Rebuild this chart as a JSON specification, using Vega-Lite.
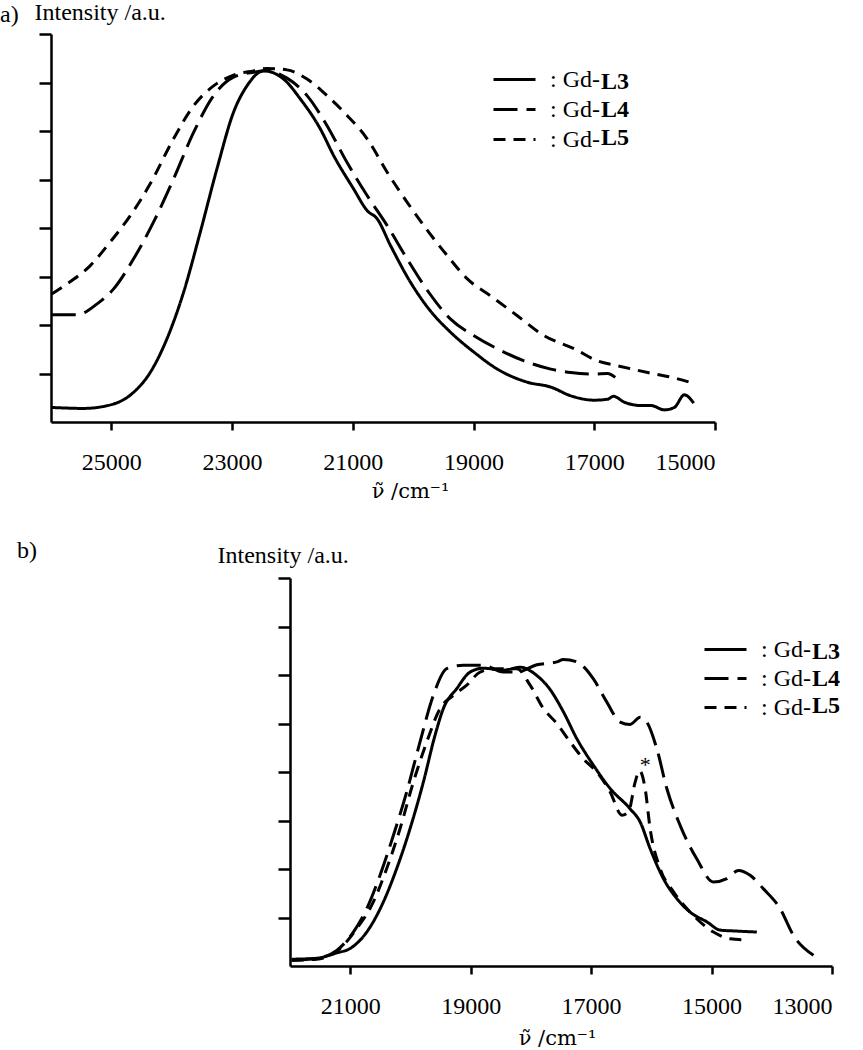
{
  "$schema": "https://vega.github.io/schema/vega-lite/v6.json",
  "padding": {"left": 0, "top": 0, "right": 0, "bottom": 0},
  "background": "white",
  "config": {
    "font": "Liberation Serif",
    "view": {"stroke": null},
    "axis": {"grid": false, "domainColor": "black", "domainWidth": 2.5, "tickColor": "black", "tickWidth": 2.5,
      "labelFont": "Liberation Serif", "labelFontSize": 24, "labelColor": "black",
      "titleFont": "Liberation Serif", "titleFontSize": 24, "titleFontWeight": "normal", "titleColor": "black"},
    "legend": {"labelFont": "Liberation Serif", "labelFontSize": 24, "labelColor": "black"},
    "title": {"font": "Liberation Serif", "fontSize": 24, "fontWeight": "normal", "color": "black", "anchor": "start", "frame": "group"}
  },
  "datasets": {
    "a": [
      {"s":"L3","x":25988,"y":0.30},{"s":"L3","x":25464,"y":0.28},{"s":"L3","x":24966,"y":0.37},{"s":"L3","x":24634,"y":0.61},{"s":"L3","x":24357,"y":1.02},{"s":"L3","x":24081,"y":1.71},{"s":"L3","x":23805,"y":2.67},{"s":"L3","x":23528,"y":3.91},{"s":"L3","x":23251,"y":5.22},{"s":"L3","x":22975,"y":6.39},{"s":"L3","x":22754,"y":6.93},{"s":"L3","x":22477,"y":7.24},{"s":"L3","x":22146,"y":7.07},{"s":"L3","x":21869,"y":6.66},{"s":"L3","x":21537,"y":6.04},{"s":"L3","x":21316,"y":5.49},{"s":"L3","x":20984,"y":4.80},{"s":"L3","x":20763,"y":4.36},{"s":"L3","x":20597,"y":4.19},{"s":"L3","x":20376,"y":3.64},{"s":"L3","x":20044,"y":2.88},{"s":"L3","x":19740,"y":2.33},{"s":"L3","x":19380,"y":1.85},{"s":"L3","x":18993,"y":1.44},{"s":"L3","x":18605,"y":1.09},{"s":"L3","x":18107,"y":0.82},{"s":"L3","x":17720,"y":0.72},{"s":"L3","x":17389,"y":0.54},{"s":"L3","x":17002,"y":0.45},{"s":"L3","x":16779,"y":0.47},{"s":"L3","x":16680,"y":0.53},{"s":"L3","x":16504,"y":0.41},{"s":"L3","x":16227,"y":0.34},{"s":"L3","x":16061,"y":0.34},{"s":"L3","x":15840,"y":0.25},{"s":"L3","x":15674,"y":0.30},{"s":"L3","x":15508,"y":0.56},{"s":"L3","x":15353,"y":0.39},
      {"s":"L4","x":25988,"y":2.21},{"s":"L4","x":25574,"y":2.21},{"s":"L4","x":25242,"y":2.43},{"s":"L4","x":24966,"y":2.74},{"s":"L4","x":24634,"y":3.36},{"s":"L4","x":24302,"y":4.12},{"s":"L4","x":23970,"y":5.01},{"s":"L4","x":23638,"y":5.97},{"s":"L4","x":23307,"y":6.73},{"s":"L4","x":22975,"y":7.11},{"s":"L4","x":22643,"y":7.21},{"s":"L4","x":22422,"y":7.24},{"s":"L4","x":22090,"y":7.09},{"s":"L4","x":21758,"y":6.73},{"s":"L4","x":21427,"y":6.11},{"s":"L4","x":21095,"y":5.35},{"s":"L4","x":20763,"y":4.67},{"s":"L4","x":20431,"y":4.05},{"s":"L4","x":20099,"y":3.36},{"s":"L4","x":19740,"y":2.67},{"s":"L4","x":19380,"y":2.12},{"s":"L4","x":18993,"y":1.78},{"s":"L4","x":18605,"y":1.51},{"s":"L4","x":18163,"y":1.26},{"s":"L4","x":17720,"y":1.09},{"s":"L4","x":17389,"y":1.02},{"s":"L4","x":17002,"y":0.99},{"s":"L4","x":16779,"y":1.00},{"s":"L4","x":16653,"y":0.92},
      {"s":"L5","x":25988,"y":2.64},{"s":"L5","x":25685,"y":2.89},{"s":"L5","x":25353,"y":3.22},{"s":"L5","x":25021,"y":3.71},{"s":"L5","x":24689,"y":4.25},{"s":"L5","x":24357,"y":4.91},{"s":"L5","x":23970,"y":5.84},{"s":"L5","x":23638,"y":6.52},{"s":"L5","x":23307,"y":6.93},{"s":"L5","x":22975,"y":7.15},{"s":"L5","x":22643,"y":7.24},{"s":"L5","x":22422,"y":7.29},{"s":"L5","x":22090,"y":7.26},{"s":"L5","x":21758,"y":7.07},{"s":"L5","x":21427,"y":6.73},{"s":"L5","x":21095,"y":6.32},{"s":"L5","x":20763,"y":5.84},{"s":"L5","x":20431,"y":5.15},{"s":"L5","x":20099,"y":4.53},{"s":"L5","x":19740,"y":3.91},{"s":"L5","x":19435,"y":3.43},{"s":"L5","x":19103,"y":2.95},{"s":"L5","x":18716,"y":2.60},{"s":"L5","x":18274,"y":2.19},{"s":"L5","x":17831,"y":1.78},{"s":"L5","x":17334,"y":1.51},{"s":"L5","x":16947,"y":1.26},{"s":"L5","x":16615,"y":1.16},{"s":"L5","x":16116,"y":1.02},{"s":"L5","x":15618,"y":0.89},{"s":"L5","x":15369,"y":0.80}
    ],
    "b": [
      {"s":"L3","x":21972,"y":0.14},{"s":"L3","x":21557,"y":0.16},{"s":"L3","x":21224,"y":0.27},{"s":"L3","x":21003,"y":0.36},{"s":"L3","x":20726,"y":0.70},{"s":"L3","x":20450,"y":1.32},{"s":"L3","x":20228,"y":2.01},{"s":"L3","x":20007,"y":2.83},{"s":"L3","x":19786,"y":3.79},{"s":"L3","x":19591,"y":4.76},{"s":"L3","x":19453,"y":5.31},{"s":"L3","x":19231,"y":5.72},{"s":"L3","x":19010,"y":6.06},{"s":"L3","x":18789,"y":6.14},{"s":"L3","x":18457,"y":6.10},{"s":"L3","x":18179,"y":6.16},{"s":"L3","x":17902,"y":5.99},{"s":"L3","x":17681,"y":5.70},{"s":"L3","x":17460,"y":5.24},{"s":"L3","x":17238,"y":4.69},{"s":"L3","x":16962,"y":4.14},{"s":"L3","x":16684,"y":3.66},{"s":"L3","x":16352,"y":3.24},{"s":"L3","x":16186,"y":2.97},{"s":"L3","x":16020,"y":2.42},{"s":"L3","x":15799,"y":1.80},{"s":"L3","x":15577,"y":1.39},{"s":"L3","x":15355,"y":1.11},{"s":"L3","x":15078,"y":0.91},{"s":"L3","x":14857,"y":0.74},{"s":"L3","x":14580,"y":0.72},{"s":"L3","x":14248,"y":0.70},
      {"s":"L4","x":21972,"y":0.12},{"s":"L4","x":21557,"y":0.16},{"s":"L4","x":21224,"y":0.32},{"s":"L4","x":20948,"y":0.70},{"s":"L4","x":20726,"y":1.18},{"s":"L4","x":20505,"y":1.87},{"s":"L4","x":20284,"y":2.69},{"s":"L4","x":20062,"y":3.59},{"s":"L4","x":19841,"y":4.62},{"s":"L4","x":19620,"y":5.58},{"s":"L4","x":19397,"y":6.13},{"s":"L4","x":19121,"y":6.20},{"s":"L4","x":18789,"y":6.20},{"s":"L4","x":18457,"y":6.06},{"s":"L4","x":18234,"y":6.06},{"s":"L4","x":17902,"y":6.21},{"s":"L4","x":17570,"y":6.27},{"s":"L4","x":17460,"y":6.32},{"s":"L4","x":17238,"y":6.27},{"s":"L4","x":16962,"y":5.92},{"s":"L4","x":16739,"y":5.44},{"s":"L4","x":16518,"y":5.03},{"s":"L4","x":16352,"y":4.98},{"s":"L4","x":16186,"y":5.13},{"s":"L4","x":16075,"y":5.03},{"s":"L4","x":15909,"y":4.48},{"s":"L4","x":15743,"y":3.66},{"s":"L4","x":15522,"y":2.90},{"s":"L4","x":15246,"y":2.21},{"s":"L4","x":14968,"y":1.73},{"s":"L4","x":14746,"y":1.80},{"s":"L4","x":14553,"y":1.97},{"s":"L4","x":14359,"y":1.87},{"s":"L4","x":14138,"y":1.59},{"s":"L4","x":13860,"y":1.18},{"s":"L4","x":13640,"y":0.63},{"s":"L4","x":13307,"y":0.22},
      {"s":"L5","x":21972,"y":0.12},{"s":"L5","x":21557,"y":0.14},{"s":"L5","x":21169,"y":0.36},{"s":"L5","x":20892,"y":0.77},{"s":"L5","x":20616,"y":1.32},{"s":"L5","x":20394,"y":2.01},{"s":"L5","x":20173,"y":2.83},{"s":"L5","x":19952,"y":3.79},{"s":"L5","x":19729,"y":4.62},{"s":"L5","x":19508,"y":5.31},{"s":"L5","x":19287,"y":5.58},{"s":"L5","x":19065,"y":5.79},{"s":"L5","x":18844,"y":6.06},{"s":"L5","x":18567,"y":6.13},{"s":"L5","x":18234,"y":6.13},{"s":"L5","x":18013,"y":5.79},{"s":"L5","x":17792,"y":5.31},{"s":"L5","x":17570,"y":5.00},{"s":"L5","x":17349,"y":4.62},{"s":"L5","x":17128,"y":4.27},{"s":"L5","x":16905,"y":4.00},{"s":"L5","x":16684,"y":3.59},{"s":"L5","x":16489,"y":3.11},{"s":"L5","x":16379,"y":3.18},{"s":"L5","x":16269,"y":3.79},{"s":"L5","x":16197,"y":4.03},{"s":"L5","x":16103,"y":3.66},{"s":"L5","x":16020,"y":2.83},{"s":"L5","x":15854,"y":2.01},{"s":"L5","x":15632,"y":1.53},{"s":"L5","x":15355,"y":1.11},{"s":"L5","x":14968,"y":0.70},{"s":"L5","x":14691,"y":0.56},{"s":"L5","x":14414,"y":0.54}
    ],
    "star": [{"x": 16103, "y": 4.15, "t": "*"}]
  },
  "resolve": {"scale": {"strokeDash": "independent", "opacity": "independent"}, "legend": {"strokeDash": "independent", "opacity": "independent"}},
  "columns": 1,
  "spacing": 38,
  "concat": [
    {
      "width": 664, "height": 388,
      "title": {"text": "a)", "dx": -51, "offset": -27},
      "data": {"name": "a"},
      "mark": {"type": "line", "strokeWidth": 3, "color": "black", "interpolate": "monotone"},
      "encoding": {
        "x": {"field": "x", "type": "quantitative",
          "scale": {"domain": [26000, 15000], "nice": false, "zero": false},
          "axis": {"values": [25000, 23000, 21000, 19000, 17000, 15000], "format": "d", "tickSize": 8, "labelPadding": 20,
            "title": "ν̃ /cm⁻¹", "titleFont": "DejaVu Serif", "titleFontSize": 21, "titleX": 359, "titleY": 75, "titleAlign": "center", "titleBaseline": "alphabetic"}},
        "y": {"field": "y", "type": "quantitative",
          "scale": {"domain": [0, 8], "nice": false, "zero": false},
          "axis": {"values": [1, 2, 3, 4, 5, 6, 7, 8], "labels": false, "tickSize": 12,
            "title": "Intensity /a.u.", "titleAngle": 0, "titleAlign": "left", "titleBaseline": "alphabetic", "titleX": -17, "titleY": -15}},
        "strokeDash": {"field": "s", "type": "nominal",
          "scale": {"domain": ["L3", "L4", "L5"], "range": [[1, 0], [24, 9], [12, 8]]},
          "legend": {"title": null, "orient": "none", "legendX": 448, "legendY": 30, "symbolType": "M-1.5,0H1.5", "symbolSize": 784,
            "symbolStrokeWidth": 3, "symbolStrokeColor": "black", "labelExpr": "': Gd-'", "labelOffset": 20, "rowPadding": 2}},
        "opacity": {"field": "s", "type": "nominal",
          "scale": {"range": [1, 1, 1]},
          "legend": {"title": null, "orient": "none", "legendX": 522, "legendY": 34, "symbolType": "M0,0", "symbolSize": 784,
            "symbolStrokeWidth": 0, "labelOffset": 0, "labelFontWeight": "bold", "rowPadding": 2}}
      }
    },
    {
      "width": 781, "height": 388,
      "title": {"text": "b)", "dx": -34, "offset": -20},
      "layer": [
        {
          "data": {"name": "b"},
          "mark": {"type": "line", "strokeWidth": 3, "color": "black", "interpolate": "monotone"},
          "encoding": {
            "x": {"field": "x", "type": "quantitative",
              "scale": {"domain": [22000, 13000], "range": [239, 781], "nice": false, "zero": false},
              "axis": {"values": [21000, 19000, 17000, 15000, 13000], "format": "d", "tickSize": 8, "labelPadding": 20,
                "title": "ν̃ /cm⁻¹", "titleFont": "DejaVu Serif", "titleFontSize": 21, "titleX": 506, "titleY": 78, "titleAlign": "center", "titleBaseline": "alphabetic"}},
            "y": {"field": "y", "type": "quantitative",
              "scale": {"domain": [0, 8], "nice": false, "zero": false},
              "axis": {"values": [1, 2, 3, 4, 5, 6, 7, 8], "labels": false, "tickSize": 12, "offset": -239,
                "title": "Intensity /a.u.", "titleAngle": 0, "titleAlign": "left", "titleBaseline": "alphabetic", "titleX": -73, "titleY": -16}},
            "strokeDash": {"field": "s", "type": "nominal",
              "scale": {"domain": ["L3", "L4", "L5"], "range": [[1, 0], [24, 9], [12, 8]]},
              "legend": {"title": null, "orient": "none", "legendX": 659, "legendY": 56, "symbolType": "M-1.5,0H1.5", "symbolSize": 784,
                "symbolStrokeWidth": 3, "symbolStrokeColor": "black", "labelExpr": "': Gd-'", "labelOffset": 20, "rowPadding": 1}},
            "opacity": {"field": "s", "type": "nominal",
              "scale": {"range": [1, 1, 1]},
              "legend": {"title": null, "orient": "none", "legendX": 733, "legendY": 60, "symbolType": "M0,0", "symbolSize": 784,
                "symbolStrokeWidth": 0, "labelOffset": 0, "labelFontWeight": "bold", "rowPadding": 1}}
          }
        },
        {
          "data": {"name": "star"},
          "mark": {"type": "text", "fontSize": 22, "color": "black", "baseline": "middle", "align": "center"},
          "encoding": {
            "x": {"field": "x", "type": "quantitative"},
            "y": {"field": "y", "type": "quantitative"},
            "text": {"field": "t"}
          }
        }
      ]
    }
  ]
}
